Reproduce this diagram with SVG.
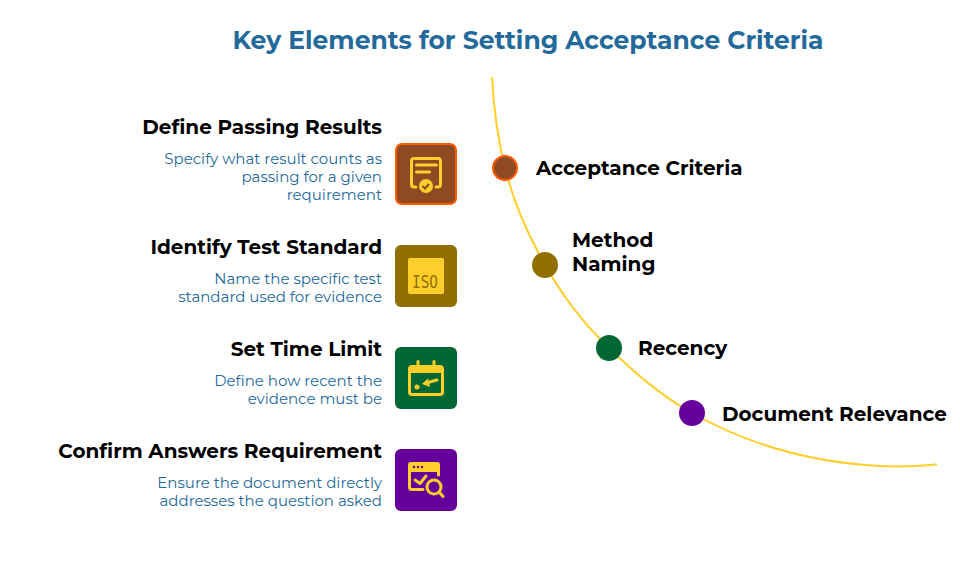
<svg xmlns="http://www.w3.org/2000/svg" width="960" height="570" viewBox="0 0 960 570">
<style>
text{font-family:Montserrat,"Noto Sans","Open Sans","Liberation Sans",sans-serif}
.t{font-size:25px;font-weight:700;fill:#236a9b}
.h{font-size:20px;font-weight:700;fill:#000;text-anchor:end}
.n{font-size:20px;font-weight:700;fill:#000}
.d{font-size:15px;fill:#236a9b;text-anchor:end}
.i{fill:none;stroke:#ffce2b;stroke-width:3;stroke-linecap:round;stroke-linejoin:round}
.f{fill:#ffce2b}
</style>
<rect width="960" height="570" fill="#fff"/>
<text class="t" x="528" y="49" text-anchor="middle">Key Elements for Setting Acceptance Criteria</text>
<g id="connectors"><path d="M492 77C494 115 498 140 505 168C513 200 527 233 545 265C562 295 585 325 609 348C635 373 660 395 692 413C740 440 800 462 880 466C900 467 920 466 937 464.500" fill="none" stroke="#ffce2b" stroke-width="2"/></g>
<g id="node-acceptance"><circle cx="505" cy="168" r="12" fill="#8f4a22" stroke="#ff5a00" stroke-width="2"/><text class="n" x="536" y="175">Acceptance Criteria</text></g>
<g id="node-method"><circle cx="545" cy="265" r="13" fill="#917000"/><text class="n" x="572" y="247">Method</text><text class="n" x="572" y="271">Naming</text></g>
<g id="node-recency"><circle cx="609" cy="348" r="13" fill="#006633"/><text class="n" x="638" y="355">Recency</text></g>
<g id="node-relevance"><circle cx="692" cy="413" r="13" fill="#66009c"/><text class="n" x="722" y="421">Document Relevance</text></g>
<g id="card-passing">
<text class="h" x="382" y="134">Define Passing Results</text>
<text class="d" x="382" y="164">Specify what result counts as</text><text class="d" x="382" y="182">passing for a given</text><text class="d" x="382" y="200">requirement</text>
<rect x="396" y="144" width="60" height="60" rx="6" fill="#8f4a22" stroke="#ff5a00" stroke-width="2"/>
<path class="i" d="M416 187H414Q411.500 187 411.500 184V161Q411.500 158.500 414 158.500H438Q440.500 158.500 440.500 161V184Q440.500 187 438 187H436"/>
<path class="i" d="M416.500 165H436.500M416.500 172H429.500"/><circle class="f" cx="426" cy="186" r="7"/><path d="M422.500 186l2.500 2.500 4-4.500" fill="none" stroke="#8f4a22" stroke-width="2"/>
</g>
<g id="card-standard">
<text class="h" x="382" y="254">Identify Test Standard</text>
<text class="d" x="382" y="284">Name the specific test</text><text class="d" x="382" y="302">standard used for evidence</text>
<rect x="395" y="245" width="62" height="62" rx="6" fill="#917000"/><rect class="f" x="408" y="258" width="36" height="36" rx="2"/>
<text x="412" y="288" textLength="26" lengthAdjust="spacingAndGlyphs" style="font-family:'DejaVu Sans Mono',monospace;font-size:18px;fill:#917000">ISO</text>
</g>
<g id="card-time">
<text class="h" x="382" y="356">Set Time Limit</text>
<text class="d" x="382" y="386">Define how recent the</text><text class="d" x="382" y="404">evidence must be</text>
<rect x="395" y="347" width="62" height="62" rx="6" fill="#006633"/>
<path class="f" d="M408 369Q408 365 412 365H416.500V361Q418 359 419.500 361V365H432.500V361Q434 359 435.500 361V365H440Q444 365 444 369V373H408Z"/>
<path class="i" d="M409.500 370V392Q409.500 394.500 412 394.500H440Q442.500 394.500 442.500 392V370"/>
<circle class="f" cx="417" cy="387" r="2.500"/><path class="i" d="M426 383L437 380"/><path class="f" d="M422 384L428 378.500L430 387Z"/>
</g>
<g id="card-answers">
<text class="h" x="382" y="458">Confirm Answers Requirement</text>
<text class="d" x="382" y="488">Ensure the document directly</text><text class="d" x="382" y="506">addresses the question asked</text>
<rect x="395" y="449" width="62" height="62" rx="6" fill="#66009c"/>
<path class="f" d="M408 465Q408 462 411 462H437Q440 462 440 465V472H408Z"/>
<path class="i" d="M409.500 472V487Q409.500 489.500 412 489.500H423M438.500 472V475"/>
<circle cx="414" cy="467" r="1.200" fill="#66009c"/><circle cx="418" cy="467" r="1.200" fill="#66009c"/><circle cx="422" cy="467" r="1.200" fill="#66009c"/>
<path class="i" d="M415 480l5 3.500 6-7.500"/><circle class="i" cx="434" cy="487" r="7"/><path class="i" d="M439.500 492.500l3.500 4"/>
</g>
</svg>
